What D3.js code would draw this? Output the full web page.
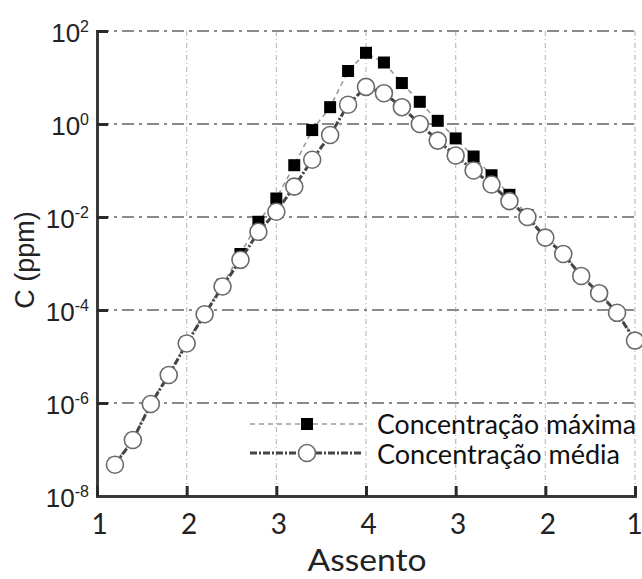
<!DOCTYPE html>
<html>
<head>
<meta charset="utf-8">
<script src="https://cdn.jsdelivr.net/npm/d3@7/dist/d3.min.js"></script>
<style>
html,body{margin:0;padding:0;background:#fff;}
svg{display:block;}
</style>
</head>
<body>
<svg id="chart" width="642" height="579"></svg>
<script>
// ---- data ----
const positions = [0.2,0.4,0.6,0.8,1.0,1.2,1.4,1.6,1.8,2.0,2.2,2.4,2.6,2.8,3.0,
                   3.2,3.4,3.6,3.8,4.0,4.2,4.4,4.6,4.8,5.0,5.2,5.4,5.6,5.8,6.0];
const concMax = [5.0e-8,1.7e-7,1.0e-6,4.2e-6,2.0e-5,8.5e-5,3.5e-4,1.6e-3,7.9e-3,2.5e-2,0.13,0.74,2.3,13.8,34,
                 21,7.6,3.0,1.17,0.49,0.20,0.079,0.030,0.011,3.8e-3,1.7e-3,5.6e-4,2.4e-4,9.0e-5,2.3e-5];
const concMean = [4.7e-8,1.6e-7,9.5e-7,4.0e-6,1.9e-5,8.1e-5,3.2e-4,1.2e-3,4.8e-3,1.3e-2,4.5e-2,0.17,0.58,2.6,6.3,
                  4.6,2.3,1.0,0.44,0.21,0.10,0.050,0.022,0.010,3.6e-3,1.6e-3,5.4e-4,2.3e-4,8.7e-5,2.2e-5];
const xTickPos = [0,1,2,3,4,5,6];
const xTickLabels = ["1","2","3","4","3","2","1"];
const yTickVals = [1e2,1e0,1e-2,1e-4,1e-6,1e-8];
const yTickExp = ["2","0","-2","-4","-6","-8"];
const seriesNames = ["Concentração máxima","Concentração média"];
const xTitle = "Assento";
const yTitle = "C (ppm)";

// ---- chart ----
const svg = d3.select("#chart");
const L = 97, R = 635, T = 31, B = 496;
const x = d3.scaleLinear().domain([0,6]).range([L,R]);
const y = d3.scaleLog().domain([1e-8,1e2]).range([B,T]);

// vertical grid
svg.append("g").selectAll("line").data(xTickPos.slice(1)).join("line")
  .attr("x1",d=>x(d)).attr("x2",d=>x(d)).attr("y1",T).attr("y2",B)
  .attr("stroke","#bdbdbd").attr("stroke-width",1.2).attr("stroke-dasharray","5,3,1,3");
// horizontal grid
svg.append("g").selectAll("line").data(yTickVals.slice(0,5)).join("line")
  .attr("x1",L).attr("x2",R).attr("y1",d=>y(d)).attr("y2",d=>y(d))
  .attr("stroke","#8a8a8a").attr("stroke-width",2.2).attr("stroke-dasharray","12,5,3,5");

// axes
const yAxis = d3.axisLeft(y).tickValues(yTickVals).tickSize(-11).tickFormat("");
const gy = svg.append("g").attr("transform",`translate(${L},0)`).call(yAxis);
gy.select(".domain").attr("stroke","#3a3a3a").attr("stroke-width",3);
gy.selectAll(".tick line").attr("stroke","#2a2a2a").attr("stroke-width",3);
gy.selectAll(".tick").each(function(d,i){
  const t = d3.select(this).append("text")
    .attr("x",-8).attr("y",10).attr("text-anchor","end")
    .attr("fill","#222").style("font-family","'Liberation Sans', Arial, sans-serif")
    .style("font-size","26px");
  t.append("tspan").text("10");
  t.append("tspan").attr("dy",-10).style("font-size","16px").text(yTickExp[i]);
});

const xAxis = d3.axisBottom(x).tickValues(xTickPos).tickSize(-10).tickFormat("");
const gx = svg.append("g").attr("transform",`translate(0,${B})`).call(xAxis);
gx.select(".domain").attr("stroke","#3a3a3a").attr("stroke-width",3);
gx.selectAll(".tick line").attr("stroke","#2a2a2a").attr("stroke-width",3);
gx.selectAll(".tick").append("text")
  .attr("y",38).attr("x",(d,i)=> i===xTickPos.length-1 ? -1 : 2).attr("text-anchor","middle").attr("fill","#222")
  .style("font-family","Lato, sans-serif").style("font-size","28px")
  .text((d,i)=>xTickLabels[i]);

// titles
svg.append("text").attr("x",367).attr("y",571).attr("text-anchor","middle")
  .attr("fill","#222").style("font-family","Lato, sans-serif").style("font-size","30px")
  .attr("textLength",119).attr("lengthAdjust","spacingAndGlyphs").text(xTitle);
svg.append("text").attr("transform","translate(34,260) rotate(-90)").attr("text-anchor","middle")
  .attr("fill","#222").style("font-family","'Liberation Sans', Arial, sans-serif").style("font-size","27px")
  .text(yTitle);

// series
const line = d3.line().x((d,i)=>x(positions[i])).y(d=>y(d));
svg.append("path").datum(concMax).attr("d",line).attr("fill","none")
  .attr("stroke","#9a9a9a").attr("stroke-width",1.6).attr("stroke-dasharray","5,4");
svg.append("g").selectAll("rect").data(concMax).join("rect")
  .attr("x",(d,i)=>x(positions[i])-6).attr("y",d=>y(d)-6).attr("width",12).attr("height",12)
  .attr("fill","#000");
svg.append("path").datum(concMean).attr("d",line).attr("fill","none")
  .attr("stroke","#444").attr("stroke-width",3).attr("stroke-dasharray","7,2,2,2");
svg.append("g").selectAll("circle").data(concMean).join("circle")
  .attr("cx",(d,i)=>x(positions[i])).attr("cy",d=>y(d)).attr("r",8.5)
  .attr("fill","#fff").attr("stroke","#6a6a6a").attr("stroke-width",1.6);

// legend
const lg = svg.append("g");
lg.append("line").attr("x1",250).attr("x2",363).attr("y1",424).attr("y2",424)
  .attr("stroke","#9a9a9a").attr("stroke-width",1.6).attr("stroke-dasharray","5,4");
lg.append("rect").attr("x",301).attr("y",418).attr("width",12).attr("height",12).attr("fill","#000");
lg.append("line").attr("x1",250).attr("x2",363).attr("y1",453).attr("y2",453)
  .attr("stroke","#444").attr("stroke-width",3).attr("stroke-dasharray","7,2,2,2");
lg.append("circle").attr("cx",307).attr("cy",453).attr("r",8.5)
  .attr("fill","#fff").attr("stroke","#6a6a6a").attr("stroke-width",1.6);
lg.append("text").attr("x",377).attr("y",434).attr("fill","#111")
  .style("font-family","Lato, sans-serif").style("font-size","26px")
  .attr("textLength",259).attr("lengthAdjust","spacingAndGlyphs").text(seriesNames[0]);
lg.append("text").attr("x",377).attr("y",464).attr("fill","#111")
  .style("font-family","Lato, sans-serif").style("font-size","26px")
  .attr("textLength",243).attr("lengthAdjust","spacingAndGlyphs").text(seriesNames[1]);
</script>
</body>
</html>
